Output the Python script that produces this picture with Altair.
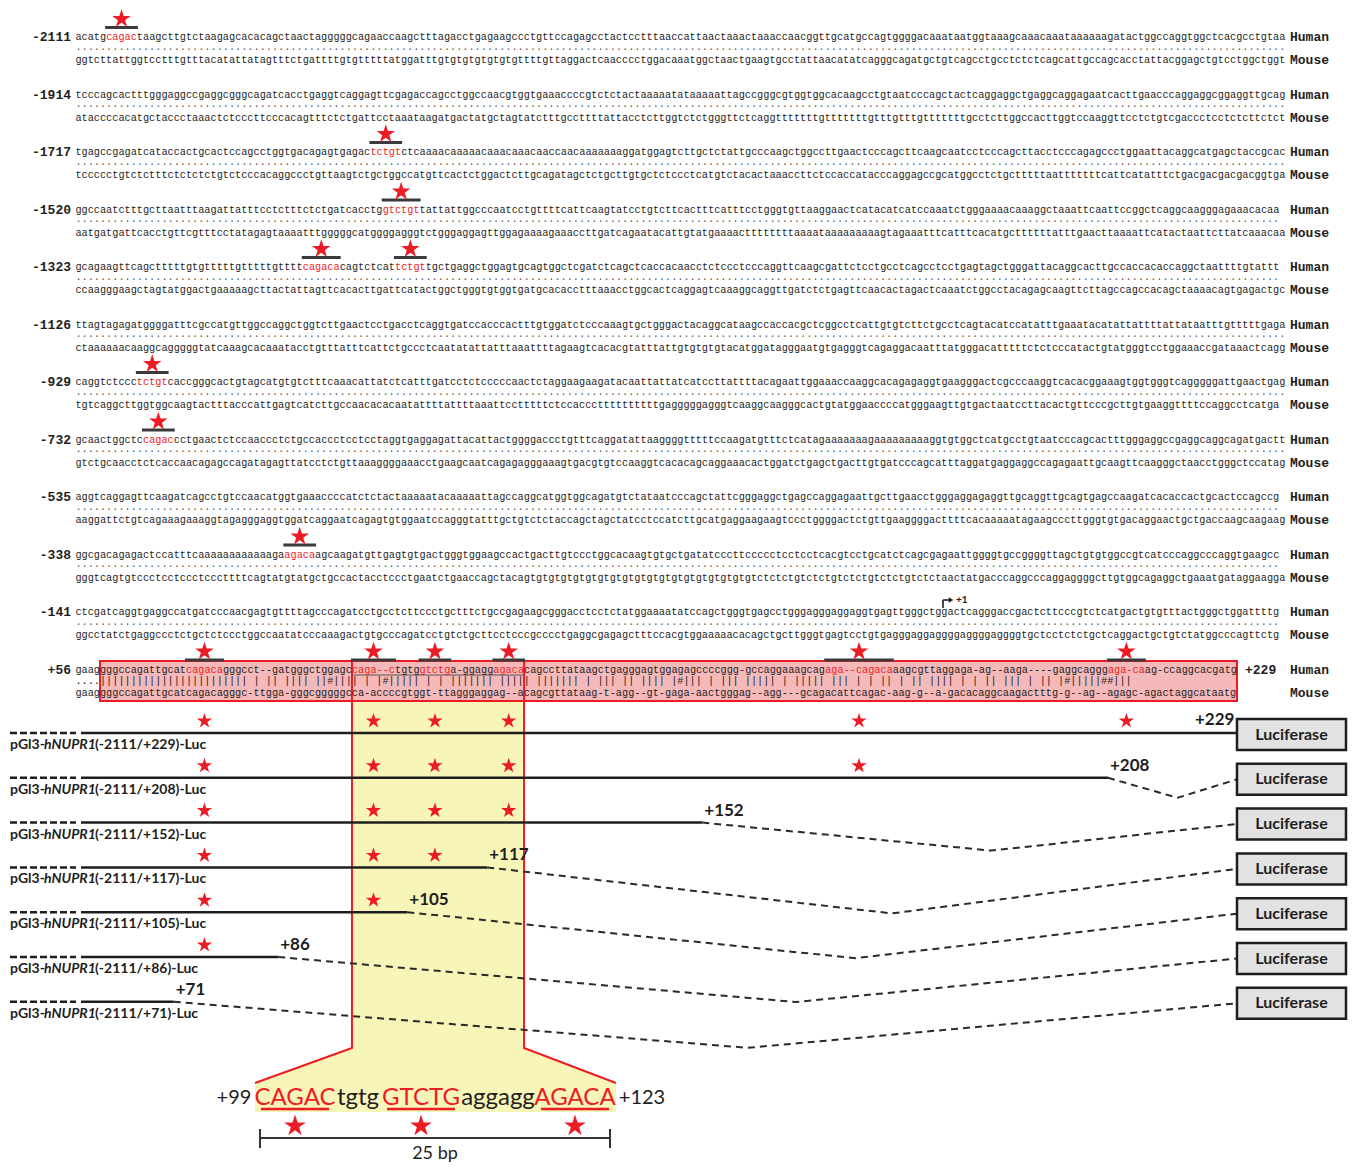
import altair as alt
import pandas as pd

# ============================ DATA ============================
ROW_STARTS = [-2111, -1914, -1717, -1520, -1323, -1126, -929, -732, -535, -338, -141, 56]
SPECIES = ["Human", "Mouse"]
LAST_POS_LABEL = "+229"

# red motif letters are written in upper case
HUMAN_ROWS = [
    "acatgCAGACtaagcttgtctaagagcacacagctaactagggggcagaaccaagctttagacctgagaagccctgttccagagcctactcctttaaccattaactaaactaaaccaacggttgcatgccagtggggacaaataatggtaaagcaaacaaataaaaaagatactggccaggtggctcacgcctgtaa",
    "tcccagcactttgggaggccgaggcgggcagatcacctgaggtcaggagttcgagaccagcctggccaacgtggtgaaaccccgtctctactaaaaatataaaaattagccgggcgtggtggcacaagcctgtaatcccagctactcaggaggctgaggcaggagaatcacttgaacccaggaggcggaggttgcag",
    "tgagccgagatcataccactgcactccagcctggtgacagagtgagacTCTGTctcaaaacaaaaacaaacaaacaaccaacaaaaaaaggatggagtcttgctctattgcccaagctggccttgaactcccagcttcaagcaatcctcccagcttacctcccagagccctggaattacaggcatgagctaccgcacta",
    "ggccaatctttgcttaatttaagattatttcctctttctctgatcacctgGTCTGTtattattggcccaatcctgttttcattcaagtatcctgtcttcactttcatttcctgggtgttaaggaactcatacatcatccaaatctgggaaaacaaaggctaaattcaattccggctcaggcaagggagaaacacaa",
    "gcagaagttcagctttttgtgtttttgtttttgttttCAGACAcagtctcatTCTGTtgctgaggctggagtgcagtggctcgatctcagctcaccacaacctctccctcccaggttcaagcgattctcctgcctcagcctcctgagtagctgggattacaggcacttgccaccacaccaggctaattttgtattt",
    "ttagtagagatggggatttcgccatgttggccaggctggtcttgaactcctgacctcaggtgatccacccactttgtggatctcccaaagtgctgggactacaggcataagccaccacgctcggcctcattgtgtcttctgcctcagtacatccatatttgaaatacatattattttattataatttgtttttgaga",
    "caggtctcccTCTGTcaccgggcactgtagcatgtgtctttcaaacattatctcatttgatcctctcccccaactctaggaagaagatacaattattatcatccttattttacagaattggaaaccaaggcacagagaggtgaagggactcgcccaaggtcacacggaaagtggtgggtcagggggattgaactgagg",
    "gcaactggctcCAGACcctgaactctccaaccctctgccaccctcctcctaggtgaggagattacattactggggaccctgtttcaggatattaaggggtttttccaagatgtttctcatagaaaaaaagaaaaaaaaaggtgtggctcatgcctgtaatcccagcactttgggaggccgaggcaggcagatgacttg",
    "aggtcaggagttcaagatcagcctgtccaacatggtgaaaccccatctctactaaaaatacaaaaattagccaggcatggtggcagatgtctataatcccagctattcgggaggctgagccaggagaattgcttgaacctgggaggagaggttgcaggttgcagtgagccaagatcacaccactgcactccagccg",
    "ggcgacagagactccatttcaaaaaaaaaaaagaAGACAagcaagatgttgagtgtgactgggtggaagccactgacttgtccctggcacaagtgtgctgatatcccttccccctcctcctcacgtcctgcatctcagcgagaattggggtgccggggttagctgtgtggccgtcatcccaggcccaggtgaagcc",
    "ctcgatcaggtgaggccatgatcccaacgagtgttttagcccagatcctgcctcttccctgctttctgccgagaagcgggacctcctctatggaaaatatccagctgggtgagcctgggagggaggaggtgagttgggctggactcagggaccgactcttcccgtctcatgactgtgtttactgggctggattttgg",
    "gaaggggccagattgcatCAGACAgggcct--gatgggctggagcCAGA--CtgtgGTCTGa-ggaggAGACAcagccttataagctgagggagtggagagccccggg-gccaggaaagcagAGA--CAGACAaagcgttaggaga-ag--aaga----gaggcagggAGA-CAag-ccaggcacgatg",
]
MOUSE_ROWS = [
    "ggtcttattggtcctttgtttacatattatagtttctgattttgtgtttttatggatttgtgtgtgtgtgtgttttgttaggactcaacccctggacaaatggctaactgaagtgcctattaacatatcagggcagatgctgtcagcctgcctctctcagcattgccagcacctattacggagctgtcctggctggt",
    "ataccccacatgctaccctaaactctcccttcccacagtttctctgattcctaaataagatgactatgctagtatctttgccttttattacctcttggtctctgggttctcaggtttttttgtttttttgtttgtttgtttttttgcctcttggccacttggtccaaggttcctctgtcgaccctcctctcttctct",
    "tccccctgtctctttctctctctgtctcccacaggccctgttaagtctgctggccatgttcactctggactcttgcagatagctctgcttgtgctctccctcatgtctacactaaaccttctccaccatacccaggagccgcatggcctctgctttttaatttttttcattcatatttctgacgacgacgacggtgac",
    "aatgatgattcacctgttcgtttcctatagagtaaaatttgggggcatggggagggtctgggaggagttggagaaaagaaaccttgatcagaatacattgtatgaaaacttttttttaaaataaaaaaaaagtagaaatttcatttcacatgcttttttatttgaacttaaaattcatactaattcttatcaaacaac",
    "ccaagggaagctagtatggactgaaaaagcttactattagttcacacttgattcatactggctgggtgtggtgatgcacacctttaaacctggcactcaggagtcaaaggcaggttgatctctgagttcaacactagactcaaatctggcctacagagcaagttcttagccagccacagctaaaacagtgagactgc",
    "ctaaaaaacaaggcagggggtatcaaagcacaaatacctgtttatttcattctgccctcaatatattatttaaattttagaagtcacacgtatttattgtgtgtgtacatggatagggaatgtgagggtcagaggacaatttatgggacatttttctctcccatactgtatgggtcctggaaaccgataaactcaggt",
    "tgtcaggcttggtggcaagtactttacccattgagtcatcttgccaacacacaatattttattttaaattcctttttctccacccttttttttttgagggggagggtcaaggcaagggcactgtatggaaccccatgggaagttgtgactaatccttacactgttcccgcttgtgaaggttttccaggcctcatga",
    "gtctgcaacctctcaccaacagagccagatagagttatcctctgttaaaggggaaacctgaagcaatcagagagggaaagtgacgtgtccaaggtcacacagcaggaaacactggatctgagctgacttgtgatcccagcatttaggatgaggaggccagagaattgcaagttcaagggctaacctgggctccatag",
    "aaggattctgtcagaaagaaaggtagagggaggtggatcaggaatcagagtgtggaatccagggtatttgctgtctctaccagctagctatcctccatcttgcatgaggaagaagtccctggggactctgttgaaggggacttttcacaaaaatagaagcccttgggtgtgacaggaactgctgaccaagcaagaagt",
    "gggtcagtgtccctcctccctcccttttcagtatgtatgctgccactacctccctgaatctgaaccagctacagtgtgtgtgtgtgtgtgtgtgtgtgtgtgtgtgtgtgtctctctgtctctgtctctgtctctgtctctaactatgacccaggcccaggaggggcttgtggcagaggctgaaatgataggaaggact",
    "ggcctatctgaggccctctgctctccctggccaatatcccaaagactgtgcccagatcctgtctgcttcctcccgcccctgaggcgagagctttccacgtggaaaaacacagctgcttgggtgagtcctgtgagggaggaggggaggggaggggtgctcctctctgctcaggactgctgtctatggcccagttctgg",
    "gaaggggccagattgcatcagacagggc-ttgga-gggcgggggcca-accccgtggt-ttagggaggag--acagcgttataag-t-agg--gt-gaga-aactgggag--agg---gcagacattcagac-aag-g--a-gacacaggcaagactttg-g--ag--agagc-agactaggcataatg",
]
TSS_ROW = 10
TSS_LABEL = "+1"
CONSTRUCT_ENDS = [229, 208, 152, 117, 105, 86, 71]
NAME_PREFIX, NAME_GENE, NAME_SUFFIX = "pGl3-", "hNUPR1", "(-2111/+{})-Luc"
REPORTER = "Luciferase"
CORE_FROM, CORE_TO = 99, 123
CORE_SEGMENTS = ["CAGAC", "tgtg", "GTCTG", "aggagg", "AGACA"]
SCALE_LABEL = "25 bp"
BOX_FIRST_COL = 4

# ============================ LAYOUT / STYLE ============================
X0, CW = 75.4, 6.146
FS = CW / 0.6
ROW_Y0, ROW_PITCH, MOUSE_DY, DOT_DY = 37.0, 57.5, 23.0, 12.5
BAR_DY, STAR_DY = 9.5, 18.0
BOX_Y1, BOX_Y2 = 661.0, 701.0
CON_Y0, CON_PITCH = 733.0, 44.8
LEFT_DASH = (10, 76)
LINE_X1 = 81
DIP = [0, 20, 28, 46, 46, 45, 46]
LUC_X2, LUC_H = 1346, 31
FUNNEL_Y, BAND_Y1, BAND_Y2 = 1048.0, 1083.0, 1112.0
BOT_X0, BP_W, BOT_Y = 260.0, 14.0, 1098.0
NAME_X = (10, 44, 95)
RED = "#ed1c24"
INK = "#1e1e1e"
PINK = "#f5b9b9"
YELLOW = "#f8f5b9"
STAR = ("M0,-1L0.2245,-0.309L0.951,-0.309L0.363,0.118L0.588,0.809L0,0.382"
        "L-0.588,0.809L-0.363,0.118L-0.951,-0.309L-0.2245,-0.309Z")


def col_x(c):
    return X0 + c * CW


def row_y(k):
    return ROW_Y0 + k * ROW_PITCH


def row_len(k):
    if k + 1 >= len(ROW_STARTS):
        return len(HUMAN_ROWS[k])
    a, b = ROW_STARTS[k], ROW_STARTS[k + 1]
    return b - a - (1 if a < 0 < b else 0)


def red_mask(s):
    mask = [ch.isupper() for ch in s]
    for i, ch in enumerate(s):
        if ch == "-":
            l = i - 1
            while l >= 0 and s[l] == "-":
                l -= 1
            r = i + 1
            while r < len(s) and s[r] == "-":
                r += 1
            if l >= 0 and r < len(s) and s[l].isupper() and s[r].isupper():
                mask[i] = True
    return mask


def segments(s):
    mask = red_mask(s)
    out, start = [], 0
    for i in range(1, len(s) + 1):
        if i == len(s) or mask[i] != mask[start]:
            out.append((start, i - 1, s[start:i].lower(), mask[start]))
            start = i
    return out


seq_txt, dot_txt, num_lbl, sp_lbl, segs, stars = [], [], [], [], [], []

for k, (start, h, m) in enumerate(zip(ROW_STARTS, HUMAN_ROWS, MOUSE_ROWS)):
    y = row_y(k)
    L = row_len(k)
    h, m = h[:L], m[:L]
    for s0, s1, txt, red in segments(h):
        seq_txt.append(dict(x=col_x(s0), y=y, t=txt, c=RED if red else INK))
        if red:
            segs.append(dict(x=col_x(s0) - 1, x2=col_x(s1 + 1) + 1, y=y - BAR_DY, y2=y - BAR_DY, w=3, c="#3a3a3a"))
            stars.append(dict(x=(col_x(s0) + col_x(s1 + 1)) / 2, y=y - STAR_DY, s=380))
    seq_txt.append(dict(x=col_x(0), y=y + MOUSE_DY, t=m.lower(), c=INK))
    num_lbl.append(dict(x=71, y=y, t=("+%d" % start) if start > 0 else str(start)))
    sp_lbl.append(dict(x=1290, y=y, t=SPECIES[0]))
    sp_lbl.append(dict(x=1290, y=y + MOUSE_DY, t=SPECIES[1]))
    if k < len(ROW_STARTS) - 1:
        dot_txt.append(dict(x=col_x(0), y=y + DOT_DY, t="." * len(h)))

# ---- the +56 alignment row ----
H56, M56 = HUMAN_ROWS[-1], MOUSE_ROWS[-1]
y56 = row_y(len(ROW_STARTS) - 1)
sp_lbl.append(dict(x=1245, y=y56, t=LAST_POS_LABEL))


def match_char(a, b):
    a, b = a.lower(), b.lower()
    if a == "-" or b == "-":
        return " "
    if a == b:
        return "|"
    if (a in "ag") == (b in "ag"):
        return "#"
    return " "


match = "".join("." if c < BOX_FIRST_COL else match_char(H56[c], M56[c] if c < len(M56) else "-")
                for c in range(len(H56)))
match_txt = [dict(x=col_x(0), y=y56 + MOUSE_DY / 2, t=match)]

col_of_nt, nt_of_col, n = {}, {}, ROW_STARTS[-1]
for c, ch in enumerate(H56):
    if ch != "-":
        col_of_nt[n] = c
        nt_of_col[c] = n
        n += 1
last_col = len(H56) - 1
runs56 = [(s0, s1, max(nt_of_col[c] for c in range(s0, s1 + 1) if c in nt_of_col))
          for s0, s1, _, red in segments(H56) if red]

c_from, c_to = col_of_nt[CORE_FROM], col_of_nt[CORE_TO]
xL, xR = col_x(c_from), col_x(c_to + 1)
LUC_X1 = col_x(last_col + 1)

# underline of the 25-bp core in the alignment row
segs.append(dict(x=xL, x2=xR, y=y56 + 5.5, y2=y56 + 5.5, w=1, c="#555555"))

# ---- constructs ----
con_lines, con_dash, conn, luc, name_n, name_i, end_lbl = [], [], [], [], [], [], []
for i, end in enumerate(CONSTRUCT_ENDS):
    ly = CON_Y0 + i * CON_PITCH
    cy = ly + 1.5
    xe = col_x(col_of_nt.get(end, last_col) + 1)
    con_lines.append(dict(x=LINE_X1, x2=xe, y=ly))
    con_dash.append(dict(x=LEFT_DASH[0], x2=LEFT_DASH[1], y=ly))
    if i > 0:
        pts = [(xe, ly), (xe + 0.54 * (LUC_X1 - xe), ly + DIP[i]), (LUC_X1, cy)]
        for o, (px, py) in enumerate(pts):
            conn.append(dict(x=px, y=py, g=i, o=o))
        end_lbl.append(dict(x=xe + 2, y=ly - 12, t="+%d" % end))
    else:
        end_lbl.append(dict(x=xe - 42, y=ly - 13, t="+%d" % end))
    for s0, s1, ntend in runs56:
        if ntend <= end:
            stars.append(dict(x=(col_x(s0) + col_x(s1 + 1)) / 2, y=ly - 12, s=260))
    luc.append(dict(x=LUC_X1, x2=LUC_X2, y=cy - LUC_H / 2, y2=cy + LUC_H / 2, xm=(LUC_X1 + LUC_X2) / 2, ym=cy, t=REPORTER))
    name_n.append(dict(x=NAME_X[0], y=ly + 12, t=NAME_PREFIX))
    name_i.append(dict(x=NAME_X[1], y=ly + 12, t=NAME_GENE))
    name_n.append(dict(x=NAME_X[2], y=ly + 12, t=NAME_SUFFIX.format(end)))

# ---- +1 arrow ----
yt = row_y(TSS_ROW)
xt = col_x(-ROW_STARTS[TSS_ROW]) + 1
segs.append(dict(x=xt, x2=xt, y=yt - 4, y2=yt - 12, w=1.6, c=INK))
segs.append(dict(x=xt, x2=xt + 6, y=yt - 12, y2=yt - 12, w=1.6, c=INK))
arrow = [dict(x=xt + 8, y=yt - 12)]
tss_txt = [dict(x=xt + 13, y=yt - 12, t=TSS_LABEL)]

# ---- red funnel + yellow ----
bot_right = BOT_X0 + len("".join(CORE_SEGMENTS)) * BP_W
red_out = []
for g, (xa, xb) in enumerate([(xL, BOT_X0 - 5), (xR, bot_right + 6)]):
    for o, (px, py) in enumerate([(xa, BOX_Y1), (xa, FUNNEL_Y), (xb, BAND_Y1)]):
        red_out.append(dict(x=px, y=py, g=g, o=o))
yellow_rect = [dict(x=xL, x2=xR, y=BOX_Y2, y2=BAND_Y2)]
yellow_band = [dict(x=BOT_X0 - 5, x2=bot_right + 6, y=BAND_Y1, y2=BAND_Y2)]
yellow_area = [dict(x=BOT_X0 - 5, y=BAND_Y1, y2=BAND_Y2, g=0), dict(x=xL, y=FUNNEL_Y, y2=BAND_Y2, g=0),
               dict(x=xR, y=FUNNEL_Y, y2=BAND_Y2, g=1), dict(x=bot_right + 6, y=BAND_Y1, y2=BAND_Y2, g=1)]
pink = [dict(x=col_x(BOX_FIRST_COL), x2=LUC_X1, y=BOX_Y1, y2=BOX_Y2)]

# ---- bottom core sequence ----
core_txt, pos = [], 0
for sg in CORE_SEGMENTS:
    cx = BOT_X0 + (pos + len(sg) / 2) * BP_W
    red = sg.isupper()
    core_txt.append(dict(x=cx, y=BOT_Y, t=sg, c=RED if red else INK))
    if red:
        segs.append(dict(x=BOT_X0 + pos * BP_W + 1, x2=BOT_X0 + (pos + len(sg)) * BP_W - 1,
                         y=BOT_Y + 11, y2=BOT_Y + 11, w=2.5, c=RED))
        stars.append(dict(x=cx, y=BOT_Y + 28, s=520))
    pos += len(sg)
core_lbl = [dict(x=BOT_X0 - 26, y=BOT_Y, t="+%d" % CORE_FROM), dict(x=bot_right + 32, y=BOT_Y, t="+%d" % CORE_TO)]
bp_lbl = [dict(x=(BOT_X0 + bot_right) / 2, y=BOT_Y + 56, t=SCALE_LABEL)]
segs.append(dict(x=BOT_X0, x2=bot_right, y=BOT_Y + 40, y2=BOT_Y + 40, w=2, c="#333333"))
segs.append(dict(x=BOT_X0, x2=BOT_X0, y=BOT_Y + 31, y2=BOT_Y + 50, w=2, c="#333333"))
segs.append(dict(x=bot_right, x2=bot_right, y=BOT_Y + 31, y2=BOT_Y + 50, w=2, c="#333333"))

# ============================ CHART ============================
XS = alt.Scale(domain=[8, 1349], nice=False, zero=False)
YS = alt.Scale(domain=[8, 1163], nice=False, zero=False, reverse=True)


def X(f="x"):
    return alt.X(f + ":Q", scale=XS, axis=None)


def Y(f="y"):
    return alt.Y(f + ":Q", scale=YS, axis=None)


def C(rows):
    return alt.Chart(pd.DataFrame(rows))


layers = [
    C(yellow_rect).mark_rect(color=YELLOW).encode(x=X(), x2="x2:Q", y=Y(), y2="y2:Q"),
    C(yellow_band).mark_rect(color=YELLOW).encode(x=X(), x2="x2:Q", y=Y(), y2="y2:Q"),
    C(yellow_area).mark_area(color=YELLOW).encode(x=X(), y=Y(), y2="y2:Q", detail="g:N"),
    C(pink).mark_rect(fill=PINK, stroke=RED, strokeWidth=2).encode(x=X(), x2="x2:Q", y=Y(), y2="y2:Q"),
    C(red_out).mark_line(color=RED, strokeWidth=2).encode(x=X(), y=Y(), detail="g:N", order="o:Q"),
    C(segs).mark_rule().encode(x=X(), x2="x2:Q", y=Y(), y2="y2:Q",
                               size=alt.Size("w:Q", scale=None), color=alt.Color("c:N", scale=None)),
    C(dot_txt).mark_text(align="left", baseline="alphabetic", font="Liberation Mono", fontSize=FS, color="#555555")
    .encode(x=X(), y=Y(), text="t:N"),
    C(match_txt).mark_text(align="left", baseline="middle", font="Liberation Mono", fontSize=FS, color="#222222")
    .encode(x=X(), y=Y(), text="t:N"),
    C(seq_txt).mark_text(align="left", baseline="middle", font="Liberation Mono", fontSize=FS)
    .encode(x=X(), y=Y(), text="t:N", color=alt.Color("c:N", scale=None)),
    C(num_lbl).mark_text(align="right", baseline="middle", font="Liberation Mono", fontSize=13, fontWeight="bold", color=INK)
    .encode(x=X(), y=Y(), text="t:N"),
    C(sp_lbl).mark_text(align="left", baseline="middle", font="Liberation Mono", fontSize=13, fontWeight="bold", color=INK)
    .encode(x=X(), y=Y(), text="t:N"),
    C(arrow).mark_point(shape="triangle-right", filled=True, size=28, color=INK, opacity=1).encode(x=X(), y=Y()),
    C(tss_txt).mark_text(align="left", baseline="middle", font="Lato", fontSize=10, fontWeight="bold", color=INK)
    .encode(x=X(), y=Y(), text="t:N"),
    C(con_dash).mark_rule(strokeWidth=2.5, strokeDash=[7, 3], color=INK).encode(x=X(), x2="x2:Q", y=Y()),
    C(con_lines).mark_rule(strokeWidth=2.5, color=INK).encode(x=X(), x2="x2:Q", y=Y()),
    C(conn).mark_line(strokeWidth=2, strokeDash=[7, 5], color="#2a2a2a").encode(x=X(), y=Y(), detail="g:N", order="o:Q"),
    C(luc).mark_rect(fill="#e2e2e2", stroke=INK, strokeWidth=2.5).encode(x=X(), x2="x2:Q", y=Y(), y2="y2:Q"),
    C(luc).mark_text(align="center", baseline="middle", font="Lato", fontSize=16, fontWeight="bold", color=INK)
    .encode(x=X("xm"), y=Y("ym"), text="t:N"),
    C(name_n).mark_text(align="left", baseline="middle", font="Lato", fontSize=14, fontWeight="bold", color=INK)
    .encode(x=X(), y=Y(), text="t:N"),
    C(name_i).mark_text(align="left", baseline="middle", font="Lato", fontSize=14, fontWeight="bold", fontStyle="italic", color=INK)
    .encode(x=X(), y=Y(), text="t:N"),
    C(end_lbl).mark_text(align="left", baseline="middle", font="Lato", fontSize=17, fontWeight="bold", color=INK)
    .encode(x=X(), y=Y(), text="t:N"),
    C(core_txt).mark_text(align="center", baseline="middle", font="Lato", fontSize=24)
    .encode(x=X(), y=Y(), text="t:N", color=alt.Color("c:N", scale=None)),
    C(core_lbl).mark_text(align="center", baseline="middle", font="Lato", fontSize=20, color=INK)
    .encode(x=X(), y=Y(), text="t:N"),
    C(bp_lbl).mark_text(align="center", baseline="middle", font="Lato", fontSize=18, color=INK)
    .encode(x=X(), y=Y(), text="t:N"),
    C(stars).mark_point(shape=STAR, filled=True, color=RED, opacity=1, strokeWidth=0)
    .encode(x=X(), y=Y(), size=alt.Size("s:Q", scale=None)),
]

chart = alt.layer(*layers).properties(
    width=1341, height=1155, padding=0, autosize=alt.AutoSizeParams(type="none"),
    background="white",
).configure_view(stroke=None)

chart.save("out.html", embed_options={"renderer": "svg", "actions": False})
